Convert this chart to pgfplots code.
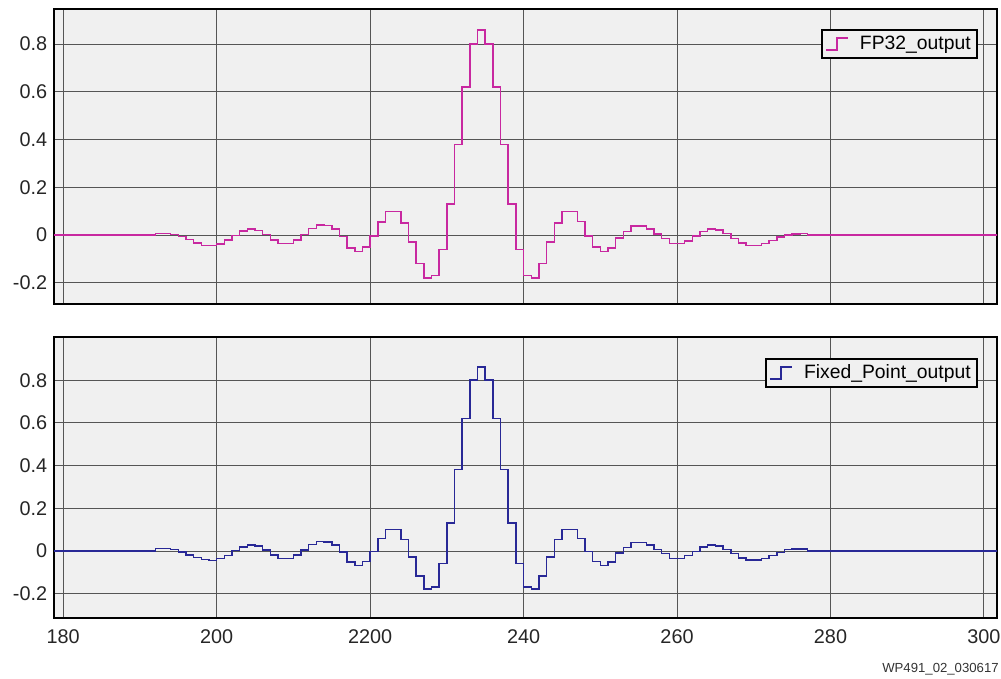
\documentclass[border=0pt]{standalone}
\usepackage{fontspec}
\setmainfont{Liberation Sans}
\usepackage{pgfplots}
\pgfplotsset{compat=1.18}
\usepackage{pgfplotstable}

\definecolor{bgc}{RGB}{240,240,240}
\definecolor{gridc}{RGB}{85,85,85}
\definecolor{fpcol}{RGB}{200,40,160}
\definecolor{fxcol}{RGB}{40,40,150}

% samples of the filter output, one per step
\pgfplotstableread{
x y
178 0
192 0.006
193 0.006
194 0.002
195 -0.006
196 -0.018
197 -0.033
198 -0.044
199 -0.044
200 -0.037
201 -0.020
202 -0.003
203 0.016
204 0.026
205 0.020
206 0.002
207 -0.020
208 -0.035
209 -0.035
210 -0.020
211 0.003
212 0.028
213 0.042
214 0.040
215 0.025
216 -0.007
217 -0.055
218 -0.070
219 -0.050
220 -0.005
221 0.055
222 0.098
223 0.098
224 0.050
225 -0.030
226 -0.120
227 -0.180
228 -0.170
229 -0.060
230 0.130
231 0.380
232 0.620
233 0.800
234 0.860
235 0.800
236 0.620
237 0.380
238 0.130
239 -0.060
240 -0.170
241 -0.180
242 -0.120
243 -0.030
244 0.050
245 0.098
246 0.098
247 0.057
248 -0.005
249 -0.050
250 -0.070
251 -0.055
252 -0.012
253 0.014
254 0.037
255 0.038
256 0.025
257 0.005
258 -0.015
259 -0.036
260 -0.036
261 -0.025
262 -0.005
263 0.015
264 0.026
265 0.022
266 0.006
267 -0.014
268 -0.034
269 -0.044
270 -0.044
271 -0.036
272 -0.022
273 -0.008
274 0.000
275 0.005
276 0.006
277 0.000
302 0
}\fpdata

\pgfplotstableread{
x y
178 0
192 0.012
193 0.012
194 0.006
195 -0.005
196 -0.018
197 -0.030
198 -0.040
199 -0.045
200 -0.036
201 -0.020
202 0.002
203 0.018
204 0.028
205 0.024
206 0.004
207 -0.018
208 -0.034
209 -0.034
210 -0.018
211 0.005
212 0.030
213 0.045
214 0.042
215 0.028
216 -0.005
217 -0.052
218 -0.068
219 -0.048
220 -0.003
221 0.058
222 0.100
223 0.100
224 0.055
225 -0.028
226 -0.118
227 -0.178
228 -0.168
229 -0.058
230 0.132
231 0.382
232 0.622
233 0.802
234 0.862
235 0.802
236 0.622
237 0.382
238 0.132
239 -0.058
240 -0.168
241 -0.178
242 -0.118
243 -0.028
244 0.055
245 0.100
246 0.100
247 0.058
248 -0.003
249 -0.048
250 -0.068
251 -0.052
252 -0.010
253 0.017
254 0.040
255 0.040
256 0.028
257 0.008
258 -0.012
259 -0.034
260 -0.034
261 -0.022
262 -0.003
263 0.018
264 0.028
265 0.024
266 0.008
267 -0.012
268 -0.032
269 -0.042
270 -0.042
271 -0.034
272 -0.020
273 -0.006
274 0.008
275 0.010
276 0.010
277 0.000
302 0
}\fxdata

\pgfplotsset{
  panel/.style={
    scale only axis,
    width=565.8pt,
    xmin=178.8, xmax=301.7,
    axis background/.style={fill=bgc},
    axis line style={line width=1.6pt, black},
    grid=major,
    major grid style={line width=0.6pt, gridc},
    major tick length=0pt,
    xtick={180,200,220,240,260,280,300},
    ytick={-0.2,0,0.2,0.4,0.6,0.8},
    yticklabels={-0.2,0,0.2,0.4,0.6,0.8},
    ticklabel style={font=\fontsize{11.9}{14}\selectfont, text=black!85},
    yticklabel style={anchor=east, inner sep=0pt, xshift=-3.9pt},
    xticklabel style={anchor=north, inner sep=0pt, yshift=-6.6pt},
    legend cell align=left,
    legend image code/.code={%
      \draw[#1, line width=0.9pt] (0pt,-3.6pt) -- (6.6pt,-3.6pt) -- (6.6pt,3.6pt) -- (13.2pt,3.6pt);
      \path[draw=none, fill=none] (0pt,0pt) -- (18.5pt,0pt);},
    legend style={
      anchor=north east,
      draw=black, line width=1.2pt, fill=bgc,
      font=\fontsize{11.6}{13}\selectfont,
      inner xsep=2pt, inner ysep=1.5pt},
  }
}

\begin{document}
\begin{tikzpicture}
\useasboundingbox (0,0) rectangle (600.6pt,-407.4pt);

\begin{axis}[panel,
  at={(32.4pt,-5.4pt)}, anchor=north west,
  height=177pt,
  ymin=-0.289, ymax=0.947,
  xticklabels={},
  legend style={at={([xshift=-11.2pt,yshift=-12pt]rel axis cs:1,1)}},
]
\addplot[const plot, color=fpcol, line width=0.9pt] table[x=x,y=y] {\fpdata};
\addlegendentry{FP32\_output}
\end{axis}

\begin{axis}[panel,
  at={(32.4pt,-202.2pt)}, anchor=north west,
  height=168.6pt,
  ymin=-0.314, ymax=1.003,
  xticklabels={180,200,2200,240,260,280,300},
  legend style={at={([xshift=-11.2pt,yshift=-12.4pt]rel axis cs:1,1)}},
]
\addplot[const plot, color=fxcol, line width=0.9pt] table[x=x,y=y] {\fxdata};
\addlegendentry{Fixed\_Point\_output}
\end{axis}

\node[anchor=south east, inner sep=0pt, font=\fontsize{7.9}{9}\selectfont, text=black!80]
  at (599.4pt,-405pt) {WP491\_02\_030617};
\end{tikzpicture}
\end{document}
